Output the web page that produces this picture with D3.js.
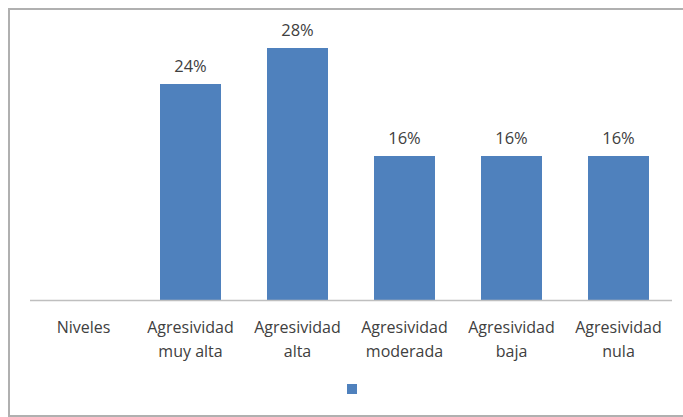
<!DOCTYPE html>
<html><head><meta charset="utf-8">
<script src="https://cdn.jsdelivr.net/npm/d3@7"></script>
<style>body{margin:0;background:#fff;}svg{display:block;}</style>
</head><body>
<script>
const categories = [["Niveles"],["Agresividad","muy alta"],["Agresividad","alta"],["Agresividad","moderada"],["Agresividad","baja"],["Agresividad","nula"]];
const values = [null, 0.24, 0.28, 0.16, 0.16, 0.16];
const labels = ["", "24%", "28%", "16%", "16%", "16%"];

const W = 683, H = 417;
const svg = d3.select("body").append("svg").attr("width", W).attr("height", H);
svg.append("rect").attr("x", 9).attr("y", 9).attr("width", W).attr("height", 407)
  .attr("fill", "#fff").attr("stroke", "#b0b0b0").attr("stroke-width", 2);

const x = d3.scaleBand().domain(d3.range(categories.length)).range([30, 672]).paddingInner(0.43).paddingOuter(0.215);
const y = d3.scaleLinear().domain([0, 0.3]).range([300, 30]);
const font = "'Open Sans', sans-serif";

svg.selectAll("rect.bar").data(values.map((v,i)=>({v,i})).filter(d=>d.v!=null)).enter().append("rect")
  .attr("class","bar")
  .attr("x", d => x(d.i)).attr("width", x.bandwidth())
  .attr("y", d => y(d.v)).attr("height", d => y(0) - y(d.v))
  .attr("fill", "#4F81BD");

svg.append("line").attr("x1", 30).attr("x2", 672).attr("y1", y(0)+0.5).attr("y2", y(0)+0.5)
  .attr("stroke", "#bfbfbf").attr("stroke-width", 1.5);

svg.selectAll("text.val").data(values.map((v,i)=>({v,i})).filter(d=>d.v!=null)).enter().append("text")
  .attr("x", d => x(d.i) + x.bandwidth()/2).attr("y", d => y(d.v) - 12)
  .attr("text-anchor","middle").attr("font-family", font).attr("font-size", 16.5)
  .attr("fill", "#404040").text(d => labels[d.i]);

const g = svg.selectAll("text.cat").data(categories).enter().append("text")
  .attr("text-anchor","middle").attr("font-family", font).attr("font-size", 16).attr("fill", "#404040")
  .attr("transform", (d,i) => `translate(${x(i)+x.bandwidth()/2},0)`);
g.selectAll("tspan").data(d=>d).enter().append("tspan").attr("x",0).attr("y",(d,j)=>333+j*24).text(d=>d);

svg.append("rect").attr("x", 347).attr("y", 384).attr("width", 10).attr("height", 10).attr("fill", "#4F81BD");
</script>
</body></html>
